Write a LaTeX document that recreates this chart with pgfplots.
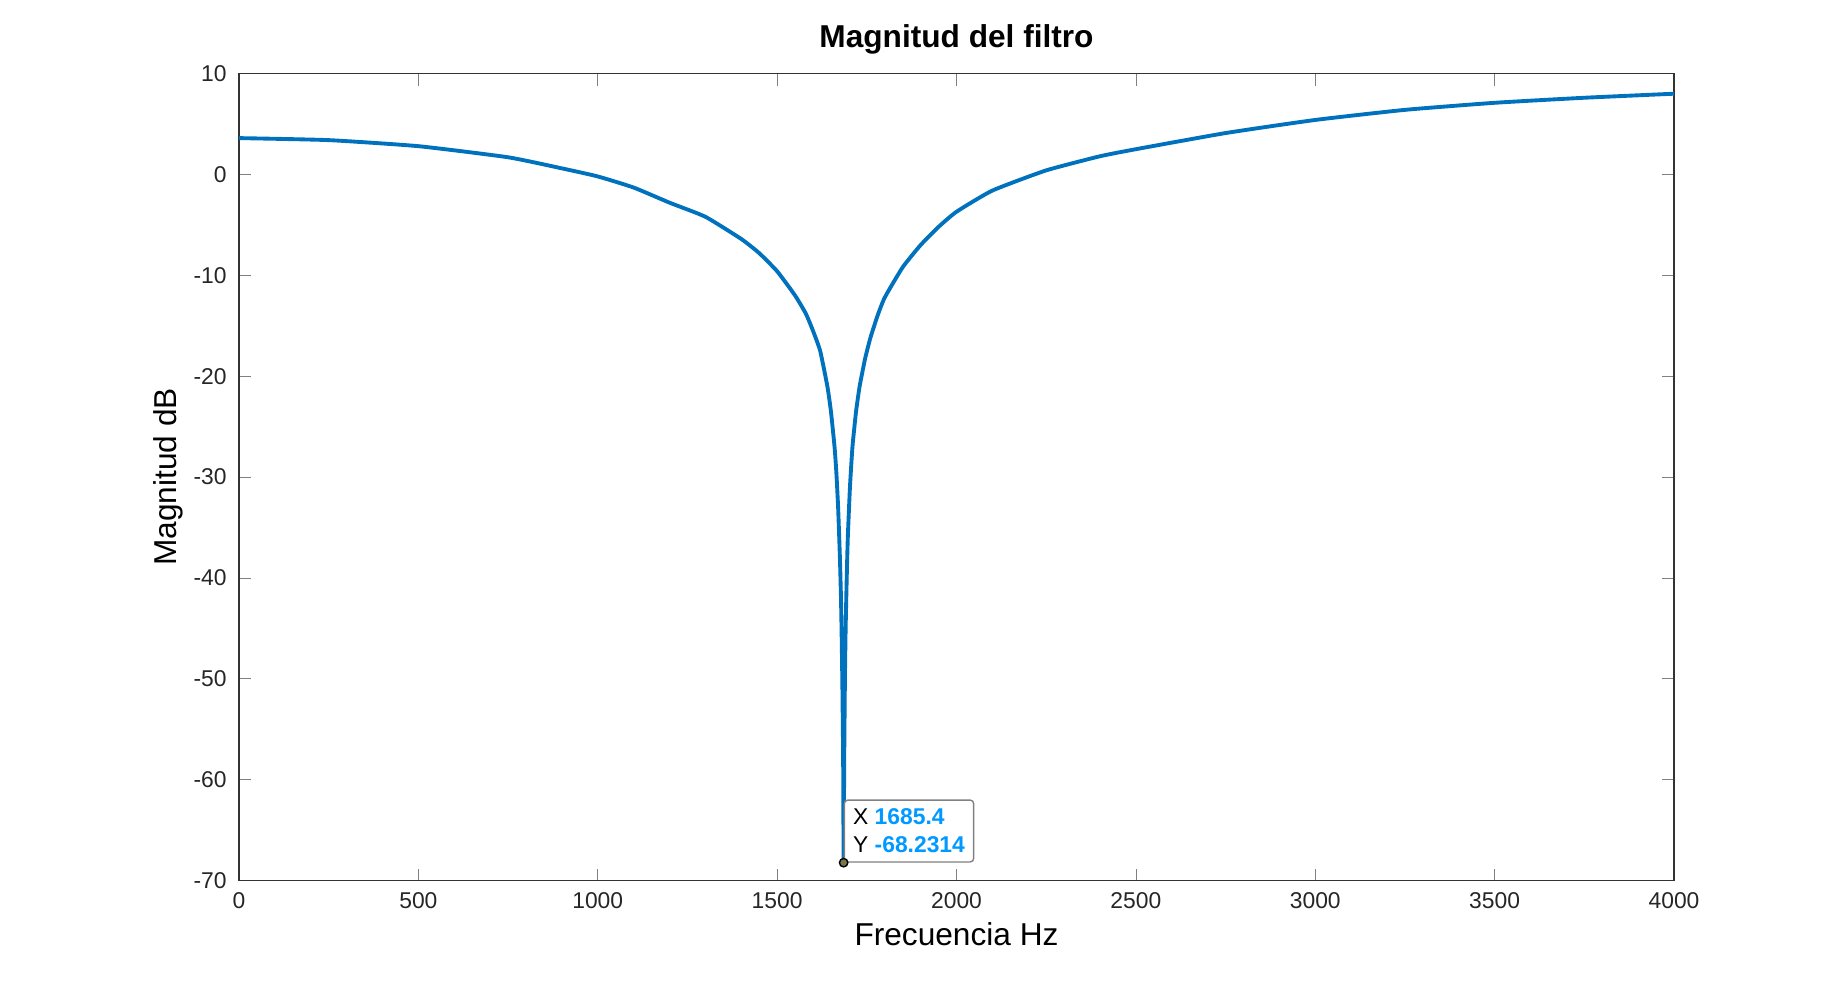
\documentclass[border=0pt]{standalone}
\usepackage{pgfplots}
\pgfplotsset{compat=1.18}
\usepackage{fontspec}
\setmainfont{Liberation Sans}
\definecolor{mblue}{RGB}{0,114,189}
\definecolor{tipblue}{RGB}{0,153,255}
\begin{document}
\begin{tikzpicture}
\useasboundingbox (-2.39,-1.055) rectangle (16.03,8.805);
\begin{axis}[at={(0,0)},anchor=south west,scale only axis,
  width=14.35cm,height=8.07cm,
  xmin=0,xmax=4000,ymin=-70,ymax=10,
  xtick={0,500,...,4000},ytick={-70,-60,...,10},
  tick align=inside,tick pos=both,
  major tick length=0.12cm,
  /pgf/number format/assume math mode=true,
  /pgf/number format/set thousands separator={},
  tick label style={font=\fontsize{6.5}{8}\selectfont,color=black!85},
  axis line style={black!80},
  title={\textbf{Magnitud del filtro}},
  title style={font=\fontsize{9}{11}\selectfont,yshift=-4pt},
  xlabel={Frecuencia Hz},ylabel={Magnitud dB},
  label style={font=\fontsize{9}{11}\selectfont},
  xlabel style={yshift=3pt},ylabel style={yshift=-4pt},
]
\addplot[mblue,line width=1.1pt,smooth,tension=0.3] coordinates {
(0,3.6)(250,3.4)(500,2.8)(750,1.7)(900,0.6)(1000,-0.2)(1100,-1.3)(1200,-2.8)(1300,-4.2)(1400,-6.4)(1450,-7.8)(1500,-9.6)(1550,-12)(1580,-13.8)(1600,-15.5)(1620,-17.5)(1640,-21)(1650,-23.5)(1660,-27)(1665,-29.5)(1670,-33)(1675,-38)(1678,-42)(1680,-46)(1682,-51)(1684,-58)(1685.4,-68.2)(1687,-58)(1689,-50)(1691,-45)(1694,-40)(1697,-36)(1703,-31)(1710,-27)(1720,-23.5)(1730,-21)(1745,-18.3)(1760,-16.2)(1780,-14)(1800,-12.2)(1850,-9.2)(1900,-7)(1950,-5.2)(2000,-3.7)(2100,-1.6)(2250,0.4)(2400,1.8)(2500,2.5)(2750,4.1)(3000,5.4)(3250,6.4)(3500,7.1)(3750,7.6)(4000,8.0)};
\addplot[only marks,mark=*,mark size=1.2pt,draw=black,fill=black!60!yellow] coordinates {(1685.4,-68.2314)}
 node[anchor=south west,xshift=0pt,yshift=0pt,draw=black!50,fill=white,rounded corners=1pt,align=left,inner sep=2.5pt,font=\fontsize{6.5}{8}\selectfont]
 {X \textbf{\color{tipblue}1685.4}\\Y \textbf{\color{tipblue}-68.2314}};
\end{axis}
\end{tikzpicture}
\end{document}
